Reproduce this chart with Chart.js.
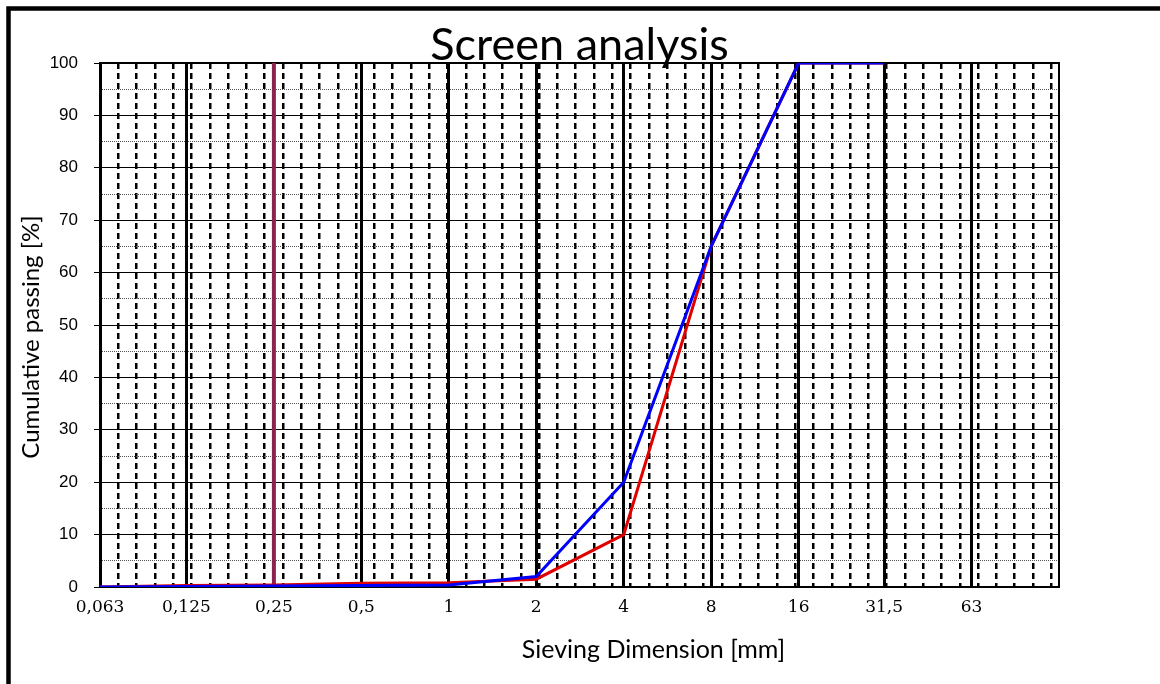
<!DOCTYPE html>
<html><head><meta charset="utf-8">
<script src="https://cdn.jsdelivr.net/npm/chart.js@4"></script>
<style>html,body{margin:0;padding:0;background:#fff}#wrap{width:1160px;height:684px}</style>
</head><body><div id="wrap"><canvas id="c" width="1160" height="684"></canvas></div>
<script>
// ---- data ----
const sieveSizes   = [0.063, 0.125, 0.25, 0.5, 1, 2, 4, 8, 16, 31.5];
const passingRed   = [0, 0.3, 0.4, 0.7, 0.8, 1.5, 10, 65, 100, 100];
const passingBlue  = [0, 0.1, 0.2, 0.3, 0.4, 2, 20, 65, 100, 100];
const limitSize    = [0.25, 0.25];
const limitPassing = [0, 100];
const xTickValues  = [0.063, 0.125, 0.25, 0.5, 1, 2, 4, 8, 16, 31.5, 63];
const xTickLabels  = ['0,063','0,125','0,25','0,5','1','2','4','8','16','31,5','63'];
const xRange       = [0.063, 126];
const yRange       = [0, 100];
const yMajorStep   = 10;
const yMinorStep   = 5;
const minorGridCount = 52;
const minorGridMax   = 52.42;
const chartTitle = 'Screen analysis';
const yAxisTitle = 'Cumulative passing [%]';
const xAxisTitle = 'Sieving Dimension [mm]';

const toPoints = (xs, ys) => xs.map((x, i) => ({x: x, y: ys[i]}));

const framePlugin = {
  id: 'frame',
  beforeDraw(chart) {
    const ctx = chart.ctx;
    ctx.save();
    ctx.fillStyle = '#fff';
    ctx.fillRect(0, 0, chart.width, chart.height);
    ctx.strokeStyle = '#000';
    ctx.lineWidth = 4.5;
    ctx.lineJoin = 'miter';
    ctx.beginPath();
    ctx.moveTo(8.5, chart.height);
    ctx.lineTo(8.5, 8.5);
    ctx.lineTo(chart.width, 8.5);
    ctx.stroke();
    ctx.restore();
  },
  beforeDatasetsDraw(chart) {
    const a = chart.chartArea, ctx = chart.ctx;
    ctx.save();
    ctx.strokeStyle = '#000';
    ctx.lineWidth = 2;
    ctx.strokeRect(a.left, a.top, a.right - a.left, a.bottom - a.top);
    ctx.restore();
  },
  afterDraw(chart) {
    const a = chart.chartArea, ctx = chart.ctx;
    ctx.save();
    ctx.fillStyle = '#000';
    ctx.textAlign = 'center';
    ctx.textBaseline = 'middle';
    ctx.font = '25px Lato';
    ctx.fillText(xAxisTitle, (a.left + a.right) / 2 + 74, 650);
    ctx.translate(31, (a.top + a.bottom) / 2 + 12);
    ctx.rotate(-Math.PI / 2);
    ctx.font = '24px Lato';
    ctx.fillText(yAxisTitle, 0, 0);
    ctx.restore();
  }
};

new Chart(document.getElementById('c'), {
  type: 'line',
  data: {
    datasets: [
      {label: 'blue', data: toPoints(sieveSizes, passingBlue), xAxisID: 'x', yAxisID: 'y', borderColor: '#0000ff', borderWidth: 3, pointRadius: 0, tension: 0},
      {label: 'red', data: toPoints(sieveSizes, passingRed), xAxisID: 'x', yAxisID: 'y', borderColor: '#e00000', borderWidth: 3, pointRadius: 0, tension: 0},
      {label: 'limit', data: toPoints(limitSize, limitPassing), xAxisID: 'x', yAxisID: 'y', borderColor: '#8b2550', borderWidth: 4, pointRadius: 0, tension: 0}
    ]
  },
  options: {
    responsive: false,
    animation: false,
    layout: {padding: {left: 0, right: 101, top: 0, bottom: 0}},
    plugins: {
      legend: {display: false},
      tooltip: {enabled: false},
      title: {
        display: true, text: chartTitle, fullSize: false, color: '#000',
        font: {family: 'Lato', size: 45, weight: 'normal', lineHeight: 0.8},
        padding: {top: 27, bottom: 0}
      }
    },
    scales: {
      x2: {
        type: 'linear', position: 'bottom', min: 0, max: minorGridMax,
        afterBuildTicks(s) { s.ticks = Array.from({length: minorGridCount}, (_, i) => ({value: i + 1})); },
        ticks: {display: false},
        grid: {color: '#000', lineWidth: 2.5, drawTicks: false, z: -3},
        border: {display: false, dash: [6, 4]},
        afterFit(s) { s.height = 0; }
      },
      y2: {
        type: 'linear', position: 'left', min: yRange[0], max: yRange[1],
        ticks: {display: false, stepSize: yMinorStep},
        grid: {color: (c) => (c.tick && c.tick.value % yMajorStep === 0) ? 'rgba(0,0,0,0)' : '#555', lineWidth: 1, drawTicks: false, z: -2},
        border: {display: false, dash: [1, 1]},
        afterFit(s) { s.width = 0; }
      },
      x: {
        type: 'logarithmic', position: 'bottom', min: xRange[0], max: xRange[1],
        afterBuildTicks(s) { s.ticks = xTickValues.map(v => ({value: v})); },
        ticks: {autoSkip: false, maxRotation: 0, minRotation: 0, padding: 10, color: '#000',
          font: {family: 'DejaVu Serif', size: 17},
          callback: (v, i) => xTickLabels[i]},
        grid: {color: '#000', lineWidth: 3, drawTicks: false, z: -1},
        border: {display: false},
        afterFit(s) { s.height = 97; }
      },
      y: {
        type: 'linear', position: 'left', min: yRange[0], max: yRange[1],
        ticks: {stepSize: yMajorStep, color: '#000', padding: 16, font: {family: 'Liberation Sans', size: 17}},
        grid: {color: '#000', lineWidth: 1, tickLength: 6, tickColor: '#000', z: -1},
        border: {display: false},
        afterFit(s) { s.width = 100; }
      }
    }
  },
  plugins: [framePlugin]
});
</script>
</body></html>
